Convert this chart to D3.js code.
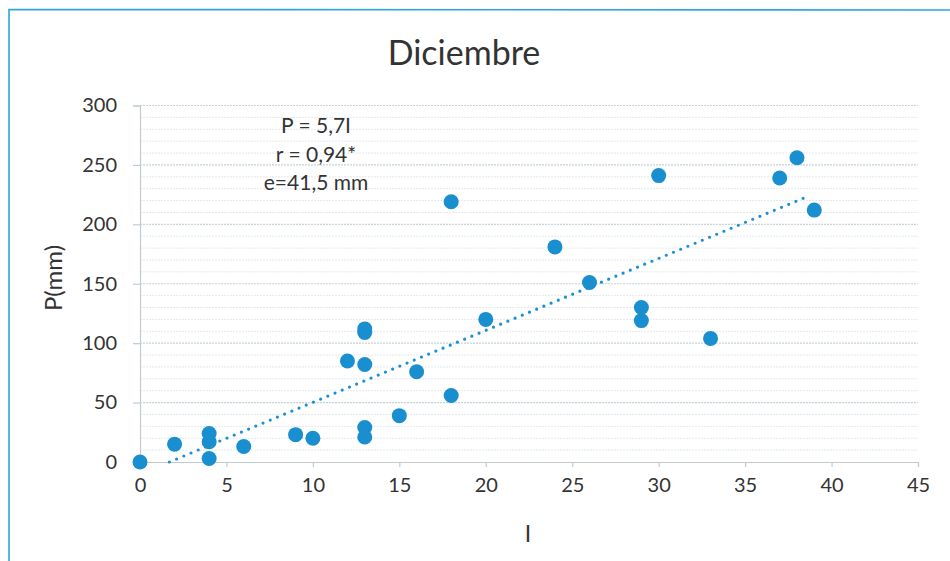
<!DOCTYPE html>
<html><head><meta charset="utf-8">
<script src="https://cdn.jsdelivr.net/npm/d3@7"></script>
<style>body{margin:0;background:#fff}svg{display:block}</style>
</head><body><svg id="c" width="950" height="561"></svg>
<script>
const xVals = [0,2,4,4,4,6,9,10,12,13,13,13,13,13,15,16,18,18,20,24,26,29,29,30,33,37,38,39];
const yVals = [0,15,24,17,3,13,23,20,85,112,109,82,29,21,39,76,219,56,120,181,151,130,119,241,104,239,256,212];
const trendX = [1.7,38.7];
const trendY = [0,224];
const xTicks = [0,5,10,15,20,25,30,35,40,45];
const yTicks = [0,50,100,150,200,250,300];
const yMinor = d3.range(0,301,10);
const annot = ["P = 5,7I","r = 0,94*","e=41,5 mm"];
const title = "Diciembre", xTitle = "I", yTitle = "P(mm)";

const svg = d3.select("#c");
const font = "Lato, 'Open Sans', sans-serif";
const x = d3.scaleLinear().domain([0,45]).range([140,918]);
const y = d3.scaleLinear().domain([0,300]).range([462,105.5]);

// border
svg.append("path").attr("d","M9,561 L9,9.5 L950,10").attr("fill","none").attr("stroke","#2fa6d9").attr("stroke-width",1.6);

// gridlines
svg.append("g").selectAll("line").data(yMinor.filter(v=>v%50!==0)).join("line")
  .attr("x1",x(0)).attr("x2",x(45)).attr("y1",d=>y(d)).attr("y2",d=>y(d))
  .attr("stroke","#e3e9ec").attr("stroke-width",1).attr("stroke-dasharray","2 1");
svg.append("g").selectAll("line").data(yTicks.slice(1)).join("line")
  .attr("x1",x(0)).attr("x2",x(45)).attr("y1",d=>y(d)).attr("y2",d=>y(d))
  .attr("stroke","#c5d3db").attr("stroke-width",1.2).attr("stroke-dasharray","2 1");

// axes
const gx = svg.append("g").attr("transform",`translate(0,${y(0)})`)
  .call(d3.axisBottom(x).tickValues(xTicks).tickSize(5).tickPadding(11));
const gy = svg.append("g").attr("transform",`translate(${x(0)},0)`)
  .call(d3.axisLeft(y).tickValues(yTicks).tickSize(7).tickPadding(16));
[gx,gy].forEach(g=>{
  g.selectAll("path,line").attr("stroke","#c3cbd0").attr("stroke-width",1.2);
  g.selectAll("text").attr("font-family",font).attr("font-size",20).attr("fill","#333");
});

// trendline
svg.append("path").datum(trendX.map((v,i)=>[v,trendY[i]]))
  .attr("d",d3.line().x(d=>x(d[0])).y(d=>y(d[1])))
  .attr("fill","none").attr("stroke","#1b8fd2").attr("stroke-width",3.2)
  .attr("stroke-linecap","round").attr("stroke-dasharray","0 7.8");

// points
svg.append("g").selectAll("circle").data(xVals.map((v,i)=>[v,yVals[i]])).join("circle")
  .attr("cx",d=>x(d[0])).attr("cy",d=>y(d[1])).attr("r",7.5).attr("fill","#1a8fd0");

// texts
svg.append("text").attr("x",464).attr("y",65).attr("text-anchor","middle")
  .attr("font-family",font).attr("font-size",34).attr("fill","#333").text(title);
svg.append("text").attr("x",528).attr("y",542).attr("text-anchor","middle")
  .attr("font-family",font).attr("font-size",23).attr("fill","#333").text(xTitle);
svg.append("text").attr("transform","translate(62,278) rotate(-90)").attr("text-anchor","middle")
  .attr("font-family",font).attr("font-size",24).attr("fill","#333").text(yTitle);
svg.append("g").selectAll("text").data(annot).join("text")
  .attr("x",316).attr("y",(d,i)=>133+i*28.5).attr("text-anchor","middle")
  .attr("font-family",font).attr("font-size",21).attr("fill","#333").text(d=>d);
</script></body></html>
